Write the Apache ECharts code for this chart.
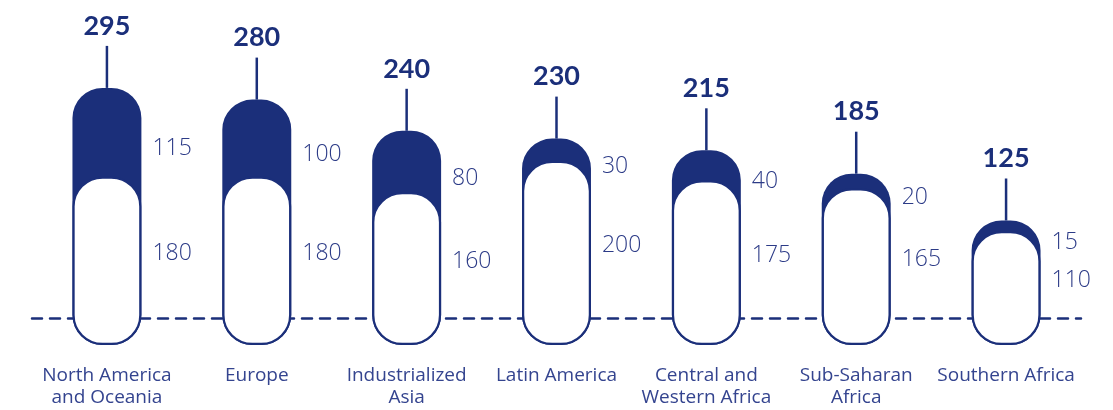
<!DOCTYPE html>
<html>
<head>
<meta charset="utf-8">
<script src="https://cdn.jsdelivr.net/npm/echarts@6/dist/echarts.min.js"></script>
<style>
  html, body { margin: 0; padding: 0; background: #fff; }
  #chart { width: 1113px; height: 410px; }
</style>
</head>
<body>
<div id="chart"></div>
<script>
const categories = [
  'North America\nand Oceania',
  'Europe',
  'Industrialized\nAsia',
  'Latin America',
  'Central and\nWestern Africa',
  'Sub-Saharan\nAfrica',
  'Southern Africa'
]
const lowerValues = [180, 180, 160, 200, 175, 165, 110]
const upperValues = [115, 100, 80, 30, 40, 20, 15]
const totals = [295, 280, 240, 230, 215, 185, 125]

const navy = '#1b2f7a'
const numColor = '#2c3b87'
const catColor = '#34448f'

// pill shape with elliptical corners
const pillPath = (x, y, w, h, rx, ry) => [
  'M', x, y + ry,
  'A', rx, ry, 0, 0, 1, x + rx, y,
  'L', x + w - rx, y,
  'A', rx, ry, 0, 0, 1, x + w, y + ry,
  'L', x + w, y + h - ry,
  'A', rx, ry, 0, 0, 1, x + w - rx, y + h,
  'L', x + rx, y + h,
  'A', rx, ry, 0, 0, 1, x, y + h - ry,
  'Z'
].join(' ')

const renderPill = (params, api) => {
  const idx = api.value(0)
  const lower = api.value(1)
  const upper = api.value(2)
  const total = api.value(3)
  const base = api.coord([idx, 0])
  const topT = api.coord([idx, total])[1]
  const top1 = api.coord([idx, lower])[1]
  const bw = api.size([1, 0])[0] * 0.46
  const cx = base[0]
  const yb = base[1] + 27
  const x0 = cx - bw / 2
  const lw = 2.2
  const darkPath = pillPath(x0, topT, bw, yb - topT, 30, 30)
  const wx = x0 + lw / 2, wy = top1, ww = bw - lw, wh = yb - top1 - lw / 2
  const whitePath = pillPath(wx, wy, ww, wh, 29, 29)
  const lx = cx + bw / 2 + 11
  return {
    type: 'group',
    children: [
      {
        type: 'path',
        shape: { pathData: darkPath, x: x0, y: topT, width: bw, height: yb - topT, layout: 'cover' },
        style: { fill: navy }
      },
      {
        type: 'path',
        shape: { pathData: whitePath, x: wx, y: wy, width: ww, height: wh, layout: 'cover' },
        style: { fill: '#fff', stroke: navy, lineWidth: lw }
      },
      {
        type: 'line',
        shape: { x1: cx, y1: topT - 42, x2: cx, y2: topT },
        style: { stroke: navy, lineWidth: 2.5 }
      },
      {
        type: 'text',
        style: {
          text: String(total), x: cx, y: topT - 62,
          align: 'center', verticalAlign: 'middle',
          fill: navy, fontSize: 27, fontWeight: 'bold', fontFamily: 'Lato'
        }
      },
      {
        type: 'text',
        style: {
          text: String(upper), x: lx, y: (topT + top1) / 2 + 16,
          align: 'left', verticalAlign: 'middle',
          fill: numColor, fontSize: 23, fontWeight: 300, fontFamily: 'Open Sans'
        }
      },
      {
        type: 'text',
        style: {
          text: String(lower), x: lx, y: (top1 + yb) / 2 - 8,
          align: 'left', verticalAlign: 'middle',
          fill: numColor, fontSize: 23, fontWeight: 300, fontFamily: 'Open Sans'
        }
      }
    ]
  }
}

const chart = echarts.init(document.getElementById('chart'))
chart.setOption({
  animation: false,
  grid: { left: 32, right: 32, top: 6, bottom: 92, outerBoundsMode: 'none' },
  xAxis: {
    type: 'category',
    data: categories,
    boundaryGap: true,
    axisLine: { show: true, lineStyle: { color: navy, width: 2.5, type: [10, 8] } },
    axisTick: { show: false },
    axisLabel: {
      color: catColor, fontSize: 19, lineHeight: 22, margin: 47,
      fontFamily: 'Open Sans', interval: 0
    }
  },
  yAxis: { type: 'value', min: 0, max: 400, show: false, splitLine: { show: false } },
  series: [{
    type: 'custom',
    clip: false,
    renderItem: renderPill,
    encode: { x: 0, y: 3 },
    data: categories.map((c, i) => [i, lowerValues[i], upperValues[i], totals[i]])
  }]
})
</script>
</body>
</html>
